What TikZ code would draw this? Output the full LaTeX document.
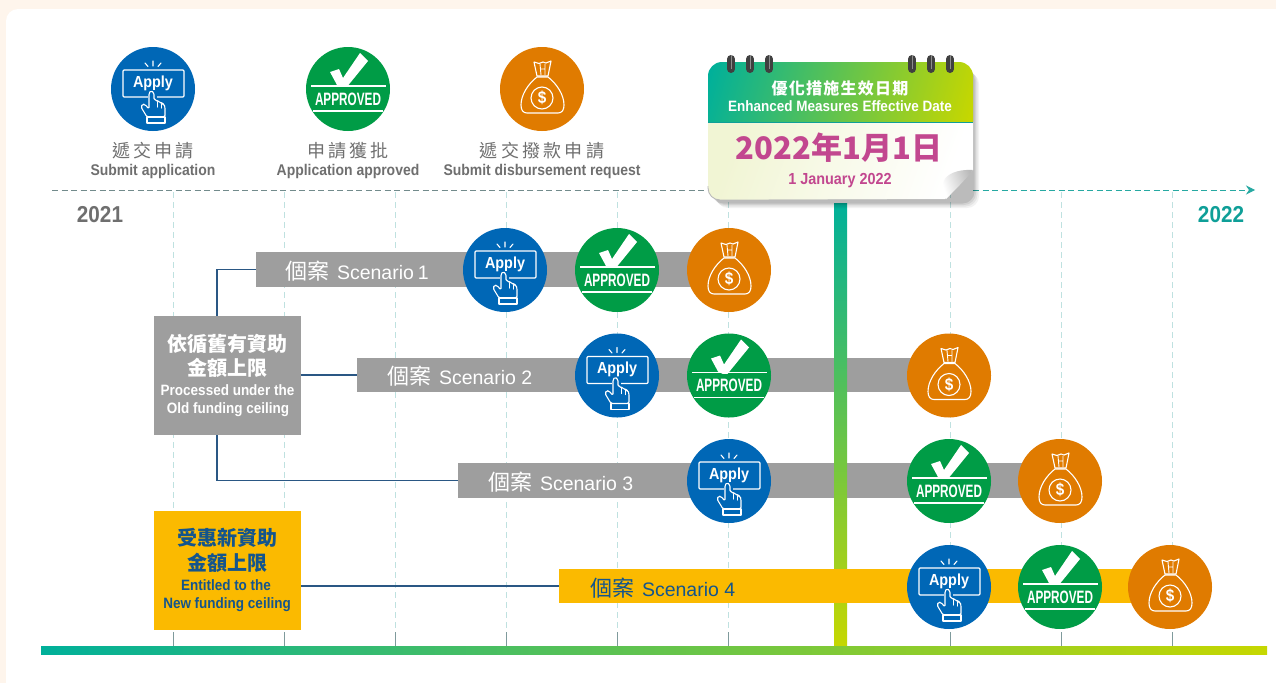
\documentclass[tikz,border=0pt]{standalone}
\usepackage{fontspec}
\usepackage{graphicx}
\usetikzlibrary{arrows.meta}
\setmainfont{Liberation Sans}[FakeStretch=0.9]
\newfontfamily\scn{Liberation Sans}
\newfontfamily\cjk{Noto Sans CJK TC}
\newfontfamily\cjksp{Noto Sans CJK TC}[LetterSpace=18]
\newfontfamily\cjkspb{Noto Sans CJK TC}[LetterSpace=8]
\newcommand{\fsz}[1]{\fontsize{#1}{#1}\selectfont}
\definecolor{bgpage}{HTML}{FEF5EC}
\definecolor{applyblue}{HTML}{0067B6}
\definecolor{okgreen}{HTML}{009C46}
\definecolor{bagorange}{HTML}{E07B00}
\definecolor{bargray}{HTML}{9E9E9E}
\definecolor{baryellow}{HTML}{FBBA00}
\definecolor{navy}{HTML}{2A5784}
\definecolor{navytext}{HTML}{14558C}
\definecolor{gridline}{HTML}{BFE1E0}
\definecolor{tickgray}{HTML}{7F9A9C}
\definecolor{teal1}{HTML}{00B09A}
\definecolor{lime1}{HTML}{C6D700}
\definecolor{labelgray}{HTML}{6F6F6F}
\definecolor{teal2}{HTML}{0F9F98}
\definecolor{magenta1}{HTML}{C2478F}
\definecolor{cream}{HTML}{F1F5D4}
\tikzset{
  disc/.style={circle,inner sep=0pt,outer sep=0pt,minimum size=84pt,draw=none},
  barbox/.style={inner sep=0pt,outer sep=0pt,minimum height=34.5pt,anchor=west,fill=bargray,draw=none},
  panel/.style={inner sep=0pt,outer sep=0pt,minimum width=147pt,minimum height=119pt,draw=none},
  conn/.style={draw=navy,line width=1.1pt},
  iconline/.style={draw=white,line width=1.1pt,line join=round,line cap=round},
  txt/.style={inner sep=0pt,outer sep=0pt,align=center,anchor=center},
  grid/.style={draw=gridline,line width=0.9pt,dash pattern=on 6pt off 4pt},
  tick/.style={draw=tickgray,line width=1pt},
}
\newcommand{\applyicon}[2]{%
  \node[disc,fill=applyblue] (#1) at (#2) {};
  \begin{scope}[shift={(#1.center)}]
    \draw[iconline,rounded corners=1pt] (-30,-19) rectangle (31,8);
    \draw[iconline] (0,-28)--(0,-23) (-8,-26)--(-5,-22.5) (8,-26)--(5,-22.5);
    \node[txt,text=white,font=\bfseries\fsz{16}] (#1t) at (0,-6) {Apply};
    \fill[applyblue] (-5,1) rectangle (4,12);
    \draw[iconline,fill=applyblue,rounded corners=1.5pt] (-6,28)--(-12,18)--(-10.5,15)--(-8,15.5)--(-4,20)--(-4,4)--(-2,1.5)--(1,4)--(1,11)--(4,11)--(5,13)--(8,13)--(9,15)--(11,15)--(12,18)--(12,28)--cycle;
    \draw[iconline] (-6,28) rectangle (12,34);
    \draw[iconline] (4.5,13)--(4.5,18) (8.5,15)--(8.5,19);
  \end{scope}}
\newcommand{\okicon}[2]{%
  \node[disc,fill=okgreen] (#1) at (#2) {};
  \begin{scope}[shift={(#1.center)}]
    \fill[white] (-18,-17)--(-9,-20)--(-5,-11)--(12,-36)--(20,-28)--(-2,-1)--(-5,-1)--(-11,-4)--cycle;
    \draw[draw=white,line width=1.2pt] (-37,-3)--(38,-3) (-35,22)--(35,22);
    \fill[okgreen] (-10,-1.9) rectangle (10,-0.5);
    \node[txt,text=white] (#1t) at (0,10) {\resizebox{66pt}{12.5pt}{\bfseries APPROVED}};
  \end{scope}}
\newcommand{\bagicon}[2]{%
  \node[disc,fill=bagorange] (#1) at (#2) {};
  \begin{scope}[shift={(#1.center)}]
    \draw[iconline] (-5,-13)--(-8,-27)--(-3,-25.5)--(1,-27)--(4,-26)--(9,-28)--(6,-13)--cycle;
    \draw[iconline,line width=0.9pt] (-2,-25)--(-1,-14) (3,-25)--(3,-14) (-1.5,-20)--(3,-20);
    \draw[iconline] (-5,-12) .. controls (-14,-5) and (-21,6) .. (-21,16) .. controls (-21,21) and (-19,24) .. (-15,24) -- (16,24) .. controls (20,24) and (22,21) .. (22,16) .. controls (22,6) and (15,-5) .. (6,-12) -- cycle;
    \draw[iconline] (0,9) circle (11);
    \node[txt,text=white,font=\bfseries\fsz{17}] (#1t) at (0,9) {\$};
  \end{scope}}
\begin{document}
\begin{tikzpicture}[x=1pt,y=-1pt]
\useasboundingbox (0,0) rectangle (1276,683);
\fill[bgpage] (0,0) rectangle (1276,683);
\fill[white] (6,683) [rounded corners=12pt] -- (6,9) [sharp corners] -- (1276,9) -- (1276,683) -- cycle;
% grid
\foreach \x in {173,284,395,506,617,728,950,1061,1172}{
  \draw[grid] (\x,192)--(\x,632);
  \draw[tick] (\x,632)--(\x,646);
}
% axis
\coordinate (axisL) at (52,190);
\coordinate (axisM) at (708,190);
\coordinate (axisN) at (973,190);
\coordinate (axisR) at (1255,190);
\draw[draw=tickgray!90!black,line width=1pt,dash pattern=on 6pt off 3.5pt] (axisL)--(axisM);
\draw[draw=teal2!90,line width=1pt,dash pattern=on 6pt off 3.5pt,-{Stealth[length=9pt,width=9pt]}] (axisN)--(axisR);
\node[txt,text=labelgray,font=\bfseries\fsz{23}] (y21) at (100,215) {2021};
\node[txt,text=teal2,font=\bfseries\fsz{23}] (y22) at (1221,215) {2022};
% top legend
\applyicon{topA}{153,89}
\okicon{topB}{348,89}
\bagicon{topC}{542,89}
\node[txt,text=labelgray,font=\cjksp\fsz{18}] (la1) at (153,151) {遞交申請};
\node[txt,text=labelgray,font=\bfseries\fsz{15.5}] (la2) at (153,171.5) {Submit application};
\node[txt,text=labelgray,font=\cjksp\fsz{18}] (lb1) at (348,151) {申請獲批};
\node[txt,text=labelgray,font=\bfseries\fsz{15.5}] (lb2) at (348,171.5) {Application approved};
\node[txt,text=labelgray,font=\cjksp\fsz{18}] (lc1) at (542,151) {遞交撥款申請};
\node[txt,text=labelgray,font=\bfseries\fsz{15.5}] (lc2) at (542,171.5) {Submit disbursement request};
% bars
\node[barbox,minimum width=450pt] (s1) at (256,269.5) {};
\node[barbox,minimum width=560pt] (s2) at (357,375) {};
\node[barbox,minimum width=580pt] (s3) at (458,480.5) {};
% central bar
\shade[top color=teal1,bottom color=lime1] (834,203) rectangle (847,648);
\node[barbox,fill=baryellow,minimum width=600pt] (s4) at (559,586) {};
% panels
\node[panel,fill=bargray] (old) at (227.5,375.5) {};
\node[panel,fill=baryellow] (new) at (227.5,570.5) {};
\node[txt,text=white,font=\cjk\bfseries\fsz{20}] (o1) at (227.5,344) {依循舊有資助};
\node[txt,text=white,font=\cjk\bfseries\fsz{20}] (o2) at (227.5,368) {金額上限};
\node[txt,text=white,font=\bfseries\fsz{15}] (o3) at (227.5,390.5) {Processed under the};
\node[txt,text=white,font=\bfseries\fsz{15}] (o4) at (228,409.5) {Old funding ceiling};
\node[txt,text=navytext,font=\cjk\bfseries\fsz{20}] (n1) at (227.5,538) {受惠新資助};
\node[txt,text=navytext,font=\cjk\bfseries\fsz{20}] (n2) at (227.5,563) {金額上限};
\node[txt,text=navytext,font=\bfseries\fsz{15}] (n3) at (226,585.5) {Entitled to the};
\node[txt,text=navytext,font=\bfseries\fsz{15}] (n4) at (227,604.5) {New funding ceiling};
% connectors
\coordinate (oldTop) at (217,316);
\coordinate (oldBot) at (217,435);
\draw[conn] (oldTop) |- (s1.west);
\draw[conn] (old.east |- s2.west) -- (s2.west);
\draw[conn] (oldBot) |- (s3.west);
\draw[conn] (new.east |- s4.west) -- (s4.west);
% scenario labels
\node[txt,text=white,anchor=west] (t1) at (285,271) {{\cjk\fsz{22}個案}\hspace{8pt}{\scn\fsz{19.5}Scenario\hspace{4pt}1}};
\node[txt,text=white,anchor=west] (t2) at (387,376) {{\cjk\fsz{22}個案}\hspace{8pt}{\scn\fsz{19.5}Scenario 2}};
\node[txt,text=white,anchor=west] (t3) at (488,482) {{\cjk\fsz{22}個案}\hspace{8pt}{\scn\fsz{19.5}Scenario 3}};
\node[txt,text=navytext,anchor=west] (t4) at (590,588) {{\cjk\fsz{22}個案}\hspace{8pt}{\scn\fsz{19.5}Scenario 4}};
% icons
\applyicon{a1}{505,270}
\okicon{b1}{617,270}
\bagicon{c1}{729,270}
\applyicon{a2}{617,375.5}
\okicon{b2}{729,375.5}
\bagicon{c2}{949,375.5}
\applyicon{a3}{729,481}
\okicon{b3}{949,481}
\bagicon{c3}{1060,481}
\applyicon{a4}{949,587}
\okicon{b4}{1060,587}
\bagicon{c4}{1170,587}
% calendar
\foreach \o/\d in {0.05/8,0.06/6.5,0.08/5,0.10/3.5}{
  \fill[black,opacity=\o,rounded corners=12pt] (708+\d,64+\d) rectangle (973+\d-2,200+\d);
}
\shade[left color=cream,right color=white,shading angle=70] (708,122) [rounded corners=12pt] -- (708,200) [sharp corners] -- (945,199) -- (973,170) -- (973,122) -- cycle;
\draw[draw=gray!55,line width=0.9pt] (708,186) [rounded corners=12pt] -- (708,200) [sharp corners] -- (945,200);
\shade[left color=white,right color=gray!55,shading angle=110] (973,170) .. controls (958,169) and (944,174) .. (943,184) .. controls (943,191) and (944,196) .. (946,199) .. controls (955,190) and (965,180) .. (973,170) -- cycle;
\begin{scope}
  \clip (708,122) [rounded corners=14pt] -- (708,62) -- (973,62) [sharp corners] -- (973,122) -- cycle;
  \shade[left color=teal1,right color=lime1,shading angle=75] (708,-40) rectangle (973,225);
\end{scope}
\draw[draw=teal2,line width=0.9pt] (708,122) -- (973,122);
\foreach \x in {731,750,769,912,931,950}{
  \draw[draw=black!75,line width=8pt,line cap=round] (\x,59)--(\x,69);
  \draw[draw=black!45,line width=0.9pt] (\x,55)--(\x,69);
}
\node[txt,text=white,font=\cjkspb\bfseries\fsz{16}] (c1t) at (840,88) {優化措施生效日期};
\node[txt,text=white,font=\bfseries\fsz{15}] (c2t) at (840,106.5) {Enhanced Measures Effective Date};
\node[txt,text=magenta1,font=\cjk\bfseries\fsz{31}] (c3t) at (839,148) {2022年1月1日};
\node[txt,text=magenta1,font=\bfseries\fsz{16}] (c4t) at (840,181) {1 January 2022};
% bottom bar
\shade[left color=teal1,right color=lime1] (41,646) rectangle (1267,654);
\end{tikzpicture}
\end{document}
